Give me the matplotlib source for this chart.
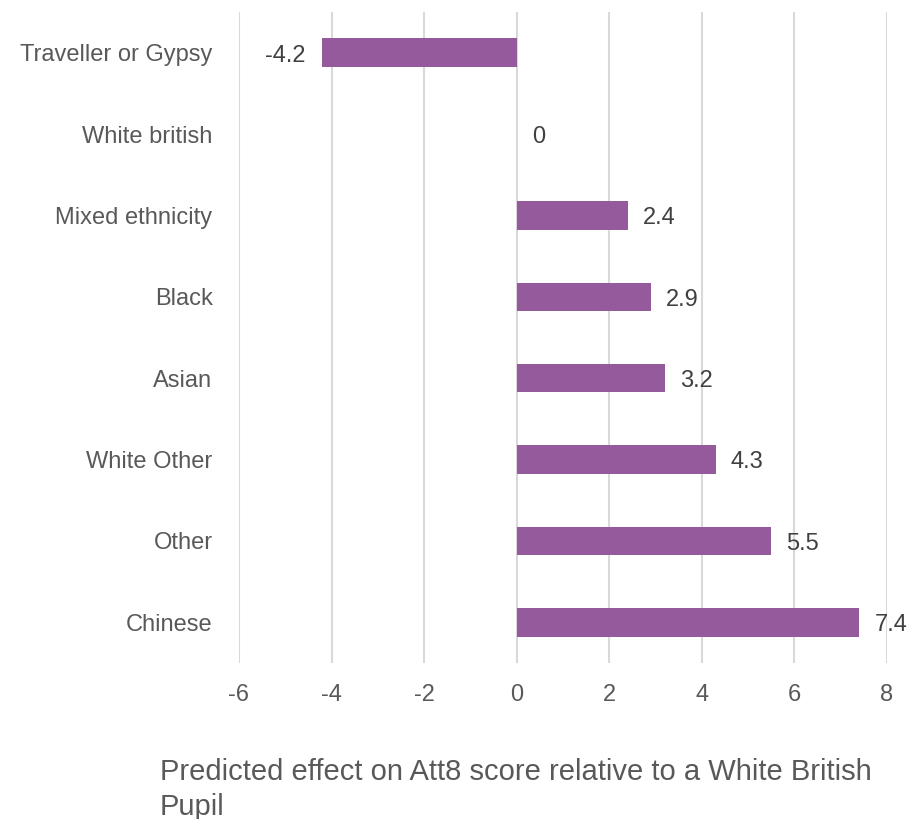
# Horizontal bar chart: predicted Att8 effect by ethnicity

import matplotlib.pyplot as plt

plt.rcParams['font.family'] = ['Liberation Sans', 'DejaVu Sans']

# Data (top to bottom)
groups = ["Traveller or Gypsy", "White british", "Mixed ethnicity", "Black",
          "Asian", "White Other", "Other", "Chinese"]
effects = [-4.2, 0, 2.4, 2.9, 3.2, 4.3, 5.5, 7.4]
tick_values = [-6, -4, -2, 0, 2, 4, 6, 8]

bar_colour = "#955A9C"
grey = "#595959"

fig = plt.figure(figsize=(9.1, 8.19), dpi=100)
ax = fig.add_axes([0.2626, 0.1905, 0.7121, 0.7948])

ypos = list(range(len(groups)))
ax.barh(ypos, effects, height=0.35, color=bar_colour, zorder=3)

# value labels
for y, v in zip(ypos, effects):
    if v < 0:
        ax.annotate(f"{v:g}", (v, y), xytext=(-12, -2), textcoords="offset points",
                    ha="right", va="center", fontsize=17, color="#404040")
    else:
        ax.annotate(f"{v:g}", (v, y), xytext=(11, -2), textcoords="offset points",
                    ha="left", va="center", fontsize=17, color="#404040")

ax.set_xlim(-6, 8)
ax.set_ylim(len(groups) - 0.5, -0.5)
ax.set_xticks(tick_values)
ax.set_xticklabels([str(t) for t in tick_values])
ax.set_yticks(ypos)
ax.set_yticklabels(groups)

ax.grid(axis="x", color="#d9d9d9", linewidth=1.5, zorder=0)
ax.tick_params(axis="x", length=0, pad=15, labelsize=17, labelcolor=grey)
ax.tick_params(axis="y", length=0, pad=19, labelsize=17, labelcolor=grey)
for s in ax.spines.values():
    s.set_visible(False)

fig.text(160 / 910, 1 - 758 / 819,
         "Predicted effect on Att8 score relative to a White British\nPupil",
         ha="left", va="top", fontsize=21, color=grey, linespacing=1.3)

fig.savefig("out.png", dpi=100)
